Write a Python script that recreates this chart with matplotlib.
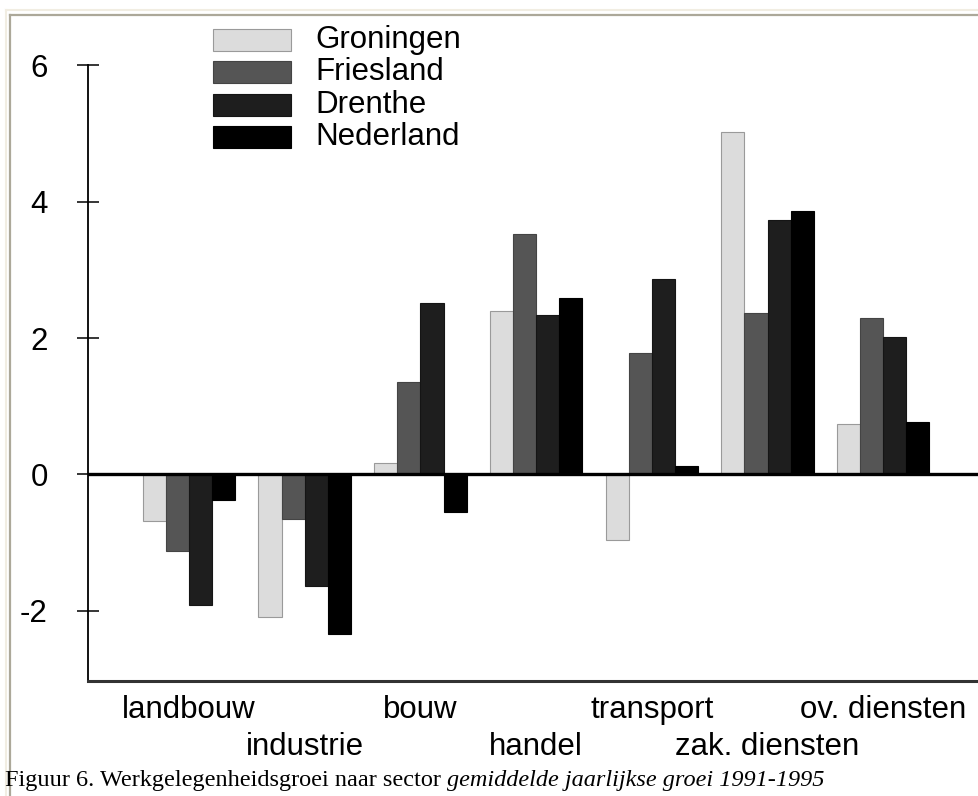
import matplotlib
matplotlib.use("Agg")
import matplotlib.pyplot as plt
import matplotlib.patches as patches
from matplotlib.lines import Line2D
import numpy as np

# data
sectors = ['landbouw', 'industrie', 'bouw', 'handel', 'transport', 'zak. diensten', 'ov. diensten']
regions = ['Groningen', 'Friesland', 'Drenthe', 'Nederland']
groningen = [-0.68, -2.09, 0.17, 2.39, -0.96, 5.02, 0.74]
friesland = [-1.12, -0.65, 1.35, 3.52, 1.78, 2.37, 2.30]
drenthe = [-1.91, -1.64, 2.51, 2.33, 2.86, 3.73, 2.01]
nederland = [-0.38, -2.33, -0.55, 2.58, 0.13, 3.86, 0.77]
yticks = [-2, 0, 2, 4, 6]
caption = 'Figuur 6. Werkgelegenheidsgroei naar sector '
caption_it = 'gemiddelde jaarlijkse groei 1991-1995'

series = [groningen, friesland, drenthe, nederland]
faces = ['#dcdcdc', '#555555', '#1e1e1e', '#000000']
edges = ['#9a9a9a', '#444444', '#151515', '#000000']

W, H = 979, 796
plt.rcParams['font.family'] = ['Liberation Sans', 'DejaVu Sans']
fig = plt.figure(figsize=(W / 100, H / 100), dpi=100)
fig.patch.set_facecolor('white')

def fx(x):
    return x / W

def fy(y):
    return 1 - y / H

# axes placed in pixel terms
ax = fig.add_axes([fx(88), fy(681), fx(979 - 88), (681 - 15) / H])
ax.set_facecolor('none')

x = np.arange(len(sectors))
bw = 0.2
for j, vals in enumerate(series):
    ax.bar(x + (j - 1.5) * bw, vals, width=bw, color=faces[j],
           edgecolor=edges[j], linewidth=0.8, zorder=2)

ax.axhline(0, color='black', lw=2.4, zorder=3)

ax.set_xlim(-0.873, 6.828)
ax.set_ylim(-3.026, 6.733)

for s in ['top', 'right']:
    ax.spines[s].set_visible(False)
ax.spines['left'].set_bounds(-3.026, 6)
ax.spines['left'].set_linewidth(1.3)
ax.spines['bottom'].set_linewidth(2.2)
ax.spines['bottom'].set_color('#333333')

ax.set_yticks(yticks)
ax.set_yticklabels([str(t) for t in yticks])
ax.tick_params(axis='y', direction='inout', length=15.8, width=1.1,
               pad=21, labelsize=22.5)

# sector labels staggered over two rows: even ones as major, odd ones as minor ticks
ax.set_xticks(x[::2])
ax.set_xticklabels(sectors[::2])
ax.set_xticks(x[1::2], minor=True)
ax.set_xticklabels(sectors[1::2], minor=True)
ax.tick_params(axis='x', which='major', length=0, pad=10, labelsize=22.5)
ax.tick_params(axis='x', which='minor', length=0, pad=37, labelsize=22.5)

# legend drawn by hand
for j, name in enumerate(regions):
    top = 29 + j * 32.3
    fig.patches.append(patches.Rectangle((fx(213), fy(top + 22)), fx(78), 22 / H,
                                         facecolor=faces[j], edgecolor=edges[j],
                                         linewidth=0.8, transform=fig.transFigure))
    fig.text(fx(315), fy(top + 11), name, fontsize=22.5, va='center', ha='left')

# frame of the page
fig.add_artist(Line2D([fx(6), 1], [fy(10), fy(10)], color='#f1ede2', lw=1.5))
fig.add_artist(Line2D([fx(6), fx(6)], [fy(10), 0], color='#f1ede2', lw=1.5))
fig.add_artist(Line2D([fx(10), 1], [fy(15), fy(15)], color='#aca899', lw=1.6))
fig.add_artist(Line2D([fx(10), fx(10)], [fy(15), 0], color='#aca899', lw=1.6))

# caption: normal part then italic part
t1 = fig.text(fx(5), fy(786), caption, fontsize=17.5, va='baseline', ha='left',
              family='Liberation Serif')
fig.canvas.draw()
bb = t1.get_window_extent()
fig.text(bb.x1 / W, fy(786), caption_it, fontsize=17.5, va='baseline', ha='left',
         family='Liberation Serif', style='italic')

fig.savefig('out.png', dpi=100)
